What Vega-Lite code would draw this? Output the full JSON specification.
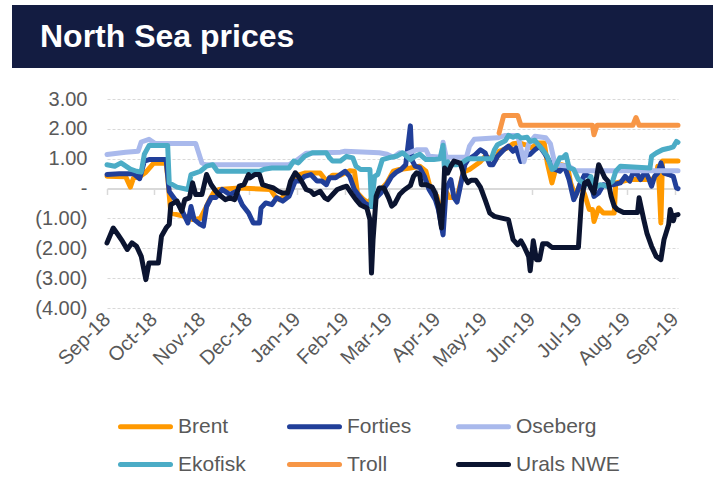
{
  "$schema": "https://vega.github.io/schema/vega-lite/v6.json",
  "background": "white",
  "padding": {"left": 12, "top": 5, "right": 12, "bottom": 0},
  "config": {"font": "Liberation Sans", "view": {"stroke": null}},
  "spacing": 31,
  "bounds": "flush",
  "resolve": {"legend": {"color": "independent"}},
  "vconcat": [
    {
      "width": 701,
      "height": 63,
      "view": {"fill": "#131c41", "stroke": null},
      "data": {"values": [{"t": "North Sea prices"}]},
      "mark": {"type": "text", "align": "left", "baseline": "alphabetic", "dx": -322.5, "dy": 10.5, "fontSize": 32, "fontWeight": "bold", "color": "#ffffff"},
      "encoding": {"text": {"field": "t"}}
    },
    {
      "resolve": {"legend": {"color": "independent"}},
      "bounds": "flush",
      "spacing": 94,
      "hconcat": [
        {
          "width": 1,
          "height": 209,
          "data": {"values": []},
          "mark": "point"
        },
        {
          "width": 571,
          "height": 209,
          "resolve": {"axis": {"x": "independent"}},
          "layer": [
            {
              "data": {"values": [{}]},
              "mark": {"type": "text", "text": ""},
              "encoding": {
                "x": {"datum": {"year": 2018, "month": 9, "date": 1}, "type": "temporal",
                  "axis": {"orient": "bottom", "offset": -119.5, "labels": false, "domain": true, "domainColor": "#d9d9d9", "domainWidth": 2, "ticks": true, "tickSize": 6, "tickColor": "#d9d9d9", "tickWidth": 1.5, "grid": false, "title": null, "tickCount": {"interval": "month", "step": 1}}}
              }
            },
            {
              "data": {"values": [
                {"series": "Brent", "date": "2018-09-01", "value": 0.41},
                {"series": "Brent", "date": "2018-09-13", "value": 0.40},
                {"series": "Brent", "date": "2018-09-16", "value": 0.05},
                {"series": "Brent", "date": "2018-09-18", "value": 0.35},
                {"series": "Brent", "date": "2018-09-22", "value": 0.40},
                {"series": "Brent", "date": "2018-09-26", "value": 0.55},
                {"series": "Brent", "date": "2018-10-01", "value": 0.85},
                {"series": "Brent", "date": "2018-10-09", "value": 0.85},
                {"series": "Brent", "date": "2018-10-10", "value": 0.40},
                {"series": "Brent", "date": "2018-10-12", "value": -0.82},
                {"series": "Brent", "date": "2018-10-18", "value": -0.90},
                {"series": "Brent", "date": "2018-10-22", "value": -0.95},
                {"series": "Brent", "date": "2018-10-26", "value": -1.04},
                {"series": "Brent", "date": "2018-10-31", "value": -1.00},
                {"series": "Brent", "date": "2018-11-03", "value": -0.70},
                {"series": "Brent", "date": "2018-11-06", "value": -0.37},
                {"series": "Brent", "date": "2018-11-09", "value": -0.10},
                {"series": "Brent", "date": "2018-11-12", "value": -0.03},
                {"series": "Brent", "date": "2018-11-25", "value": 0.02},
                {"series": "Brent", "date": "2018-12-02", "value": 0.00},
                {"series": "Brent", "date": "2018-12-15", "value": -0.03},
                {"series": "Brent", "date": "2018-12-18", "value": -0.26},
                {"series": "Brent", "date": "2018-12-21", "value": -0.37},
                {"series": "Brent", "date": "2018-12-25", "value": -0.20},
                {"series": "Brent", "date": "2018-12-30", "value": 0.25},
                {"series": "Brent", "date": "2019-01-03", "value": 0.47},
                {"series": "Brent", "date": "2019-01-06", "value": 0.52},
                {"series": "Brent", "date": "2019-01-16", "value": 0.52},
                {"series": "Brent", "date": "2019-01-20", "value": 0.25},
                {"series": "Brent", "date": "2019-01-24", "value": 0.45},
                {"series": "Brent", "date": "2019-01-29", "value": 0.45},
                {"series": "Brent", "date": "2019-02-04", "value": 0.60},
                {"series": "Brent", "date": "2019-02-07", "value": 0.58},
                {"series": "Brent", "date": "2019-02-09", "value": -0.15},
                {"series": "Brent", "date": "2019-02-13", "value": -0.37},
                {"series": "Brent", "date": "2019-02-16", "value": -0.48},
                {"series": "Brent", "date": "2019-02-19", "value": -0.25},
                {"series": "Brent", "date": "2019-02-23", "value": -0.10},
                {"series": "Brent", "date": "2019-02-28", "value": 0.20},
                {"series": "Brent", "date": "2019-03-04", "value": 0.58},
                {"series": "Brent", "date": "2019-03-08", "value": 0.64},
                {"series": "Brent", "date": "2019-03-15", "value": 0.69},
                {"series": "Brent", "date": "2019-03-21", "value": 0.75},
                {"series": "Brent", "date": "2019-03-25", "value": 0.58},
                {"series": "Brent", "date": "2019-03-28", "value": -0.03},
                {"series": "Brent", "date": "2019-04-01", "value": -0.25},
                {"series": "Brent", "date": "2019-04-04", "value": -0.90},
                {"series": "Brent", "date": "2019-04-07", "value": -0.10},
                {"series": "Brent", "date": "2019-04-09", "value": -0.30},
                {"series": "Brent", "date": "2019-04-14", "value": -0.30},
                {"series": "Brent", "date": "2019-04-18", "value": 0.55},
                {"series": "Brent", "date": "2019-04-22", "value": 0.64},
                {"series": "Brent", "date": "2019-04-29", "value": 0.90},
                {"series": "Brent", "date": "2019-05-02", "value": 1.08},
                {"series": "Brent", "date": "2019-05-05", "value": 1.02},
                {"series": "Brent", "date": "2019-05-09", "value": 0.98},
                {"series": "Brent", "date": "2019-05-11", "value": 1.25},
                {"series": "Brent", "date": "2019-05-16", "value": 1.35},
                {"series": "Brent", "date": "2019-05-20", "value": 1.50},
                {"series": "Brent", "date": "2019-05-24", "value": 1.53},
                {"series": "Brent", "date": "2019-05-29", "value": 1.45},
                {"series": "Brent", "date": "2019-06-01", "value": 1.36},
                {"series": "Brent", "date": "2019-06-05", "value": 1.53},
                {"series": "Brent", "date": "2019-06-09", "value": 1.53},
                {"series": "Brent", "date": "2019-06-11", "value": 0.86},
                {"series": "Brent", "date": "2019-06-14", "value": 0.19},
                {"series": "Brent", "date": "2019-06-16", "value": 0.58},
                {"series": "Brent", "date": "2019-06-20", "value": 0.80},
                {"series": "Brent", "date": "2019-06-24", "value": 0.75},
                {"series": "Brent", "date": "2019-06-26", "value": 0.19},
                {"series": "Brent", "date": "2019-06-29", "value": -0.26},
                {"series": "Brent", "date": "2019-07-02", "value": 0.15},
                {"series": "Brent", "date": "2019-07-05", "value": -0.20},
                {"series": "Brent", "date": "2019-07-08", "value": -0.70},
                {"series": "Brent", "date": "2019-07-10", "value": -0.70},
                {"series": "Brent", "date": "2019-07-11", "value": -1.10},
                {"series": "Brent", "date": "2019-07-14", "value": -0.65},
                {"series": "Brent", "date": "2019-07-17", "value": -0.82},
                {"series": "Brent", "date": "2019-07-24", "value": -0.82},
                {"series": "Brent", "date": "2019-07-25", "value": 0.19},
                {"series": "Brent", "date": "2019-07-30", "value": 0.25},
                {"series": "Brent", "date": "2019-08-03", "value": 0.30},
                {"series": "Brent", "date": "2019-08-17", "value": 0.30},
                {"series": "Brent", "date": "2019-08-20", "value": 0.41},
                {"series": "Brent", "date": "2019-08-21", "value": 0.75},
                {"series": "Brent", "date": "2019-08-22", "value": 0.00},
                {"series": "Brent", "date": "2019-08-23", "value": -1.15},
                {"series": "Brent", "date": "2019-08-24", "value": 0.92},
                {"series": "Brent", "date": "2019-09-03", "value": 0.92},

                {"series": "Forties", "date": "2018-09-01", "value": 0.47},
                {"series": "Forties", "date": "2018-09-09", "value": 0.50},
                {"series": "Forties", "date": "2018-09-18", "value": 0.50},
                {"series": "Forties", "date": "2018-09-22", "value": 0.33},
                {"series": "Forties", "date": "2018-09-25", "value": 0.92},
                {"series": "Forties", "date": "2018-09-28", "value": 0.97},
                {"series": "Forties", "date": "2018-10-09", "value": 0.97},
                {"series": "Forties", "date": "2018-10-11", "value": -0.10},
                {"series": "Forties", "date": "2018-10-18", "value": -0.60},
                {"series": "Forties", "date": "2018-10-21", "value": -0.93},
                {"series": "Forties", "date": "2018-10-23", "value": -1.15},
                {"series": "Forties", "date": "2018-10-25", "value": -0.60},
                {"series": "Forties", "date": "2018-10-27", "value": -1.04},
                {"series": "Forties", "date": "2018-10-31", "value": -1.20},
                {"series": "Forties", "date": "2018-11-02", "value": -1.26},
                {"series": "Forties", "date": "2018-11-04", "value": -0.60},
                {"series": "Forties", "date": "2018-11-07", "value": -0.30},
                {"series": "Forties", "date": "2018-11-10", "value": -0.30},
                {"series": "Forties", "date": "2018-11-14", "value": -0.03},
                {"series": "Forties", "date": "2018-11-19", "value": -0.20},
                {"series": "Forties", "date": "2018-11-23", "value": -0.10},
                {"series": "Forties", "date": "2018-11-27", "value": -0.55},
                {"series": "Forties", "date": "2018-12-01", "value": -0.82},
                {"series": "Forties", "date": "2018-12-04", "value": -1.15},
                {"series": "Forties", "date": "2018-12-08", "value": -1.15},
                {"series": "Forties", "date": "2018-12-09", "value": -0.65},
                {"series": "Forties", "date": "2018-12-12", "value": -0.48},
                {"series": "Forties", "date": "2018-12-16", "value": -0.54},
                {"series": "Forties", "date": "2018-12-19", "value": -0.31},
                {"series": "Forties", "date": "2018-12-23", "value": -0.42},
                {"series": "Forties", "date": "2018-12-27", "value": -0.26},
                {"series": "Forties", "date": "2018-12-31", "value": 0.25},
                {"series": "Forties", "date": "2019-01-03", "value": 0.25},
                {"series": "Forties", "date": "2019-01-06", "value": 0.41},
                {"series": "Forties", "date": "2019-01-10", "value": 0.47},
                {"series": "Forties", "date": "2019-01-14", "value": 0.25},
                {"series": "Forties", "date": "2019-01-17", "value": 0.25},
                {"series": "Forties", "date": "2019-01-20", "value": 0.13},
                {"series": "Forties", "date": "2019-01-22", "value": 0.36},
                {"series": "Forties", "date": "2019-01-26", "value": 0.36},
                {"series": "Forties", "date": "2019-01-29", "value": 0.47},
                {"series": "Forties", "date": "2019-02-01", "value": 0.58},
                {"series": "Forties", "date": "2019-02-04", "value": 0.41},
                {"series": "Forties", "date": "2019-02-07", "value": -0.03},
                {"series": "Forties", "date": "2019-02-10", "value": -0.25},
                {"series": "Forties", "date": "2019-02-14", "value": -0.50},
                {"series": "Forties", "date": "2019-02-18", "value": -0.60},
                {"series": "Forties", "date": "2019-02-21", "value": -0.31},
                {"series": "Forties", "date": "2019-02-24", "value": -0.15},
                {"series": "Forties", "date": "2019-02-28", "value": 0.15},
                {"series": "Forties", "date": "2019-03-03", "value": 0.41},
                {"series": "Forties", "date": "2019-03-06", "value": 0.55},
                {"series": "Forties", "date": "2019-03-09", "value": 0.64},
                {"series": "Forties", "date": "2019-03-12", "value": 0.80},
                {"series": "Forties", "date": "2019-03-15", "value": 2.10},
                {"series": "Forties", "date": "2019-03-16", "value": 0.95},
                {"series": "Forties", "date": "2019-03-18", "value": 0.75},
                {"series": "Forties", "date": "2019-03-21", "value": 0.70},
                {"series": "Forties", "date": "2019-03-24", "value": 0.41},
                {"series": "Forties", "date": "2019-03-27", "value": -0.03},
                {"series": "Forties", "date": "2019-03-31", "value": -0.37},
                {"series": "Forties", "date": "2019-04-02", "value": -0.70},
                {"series": "Forties", "date": "2019-04-05", "value": -1.55},
                {"series": "Forties", "date": "2019-04-07", "value": 0.00},
                {"series": "Forties", "date": "2019-04-10", "value": 0.30},
                {"series": "Forties", "date": "2019-04-12", "value": -0.30},
                {"series": "Forties", "date": "2019-04-14", "value": -0.45},
                {"series": "Forties", "date": "2019-04-17", "value": 0.30},
                {"series": "Forties", "date": "2019-04-19", "value": 0.80},
                {"series": "Forties", "date": "2019-04-21", "value": 0.97},
                {"series": "Forties", "date": "2019-04-25", "value": 1.10},
                {"series": "Forties", "date": "2019-04-29", "value": 1.30},
                {"series": "Forties", "date": "2019-05-02", "value": 1.20},
                {"series": "Forties", "date": "2019-05-05", "value": 0.80},
                {"series": "Forties", "date": "2019-05-07", "value": 0.80},
                {"series": "Forties", "date": "2019-05-10", "value": 1.08},
                {"series": "Forties", "date": "2019-05-14", "value": 1.30},
                {"series": "Forties", "date": "2019-05-17", "value": 1.42},
                {"series": "Forties", "date": "2019-05-20", "value": 1.25},
                {"series": "Forties", "date": "2019-05-22", "value": 1.36},
                {"series": "Forties", "date": "2019-05-25", "value": 0.91},
                {"series": "Forties", "date": "2019-05-27", "value": 1.10},
                {"series": "Forties", "date": "2019-05-31", "value": 1.15},
                {"series": "Forties", "date": "2019-06-03", "value": 1.30},
                {"series": "Forties", "date": "2019-06-06", "value": 1.42},
                {"series": "Forties", "date": "2019-06-09", "value": 1.20},
                {"series": "Forties", "date": "2019-06-13", "value": 0.86},
                {"series": "Forties", "date": "2019-06-16", "value": 0.64},
                {"series": "Forties", "date": "2019-06-19", "value": 0.58},
                {"series": "Forties", "date": "2019-06-22", "value": 0.75},
                {"series": "Forties", "date": "2019-06-25", "value": 0.30},
                {"series": "Forties", "date": "2019-06-28", "value": -0.37},
                {"series": "Forties", "date": "2019-06-30", "value": -0.15},
                {"series": "Forties", "date": "2019-07-02", "value": 0.15},
                {"series": "Forties", "date": "2019-07-05", "value": 0.47},
                {"series": "Forties", "date": "2019-07-08", "value": 0.41},
                {"series": "Forties", "date": "2019-07-11", "value": -0.26},
                {"series": "Forties", "date": "2019-07-14", "value": -0.15},
                {"series": "Forties", "date": "2019-07-17", "value": 0.13},
                {"series": "Forties", "date": "2019-07-20", "value": 0.08},
                {"series": "Forties", "date": "2019-07-23", "value": 0.13},
                {"series": "Forties", "date": "2019-07-28", "value": 0.19},
                {"series": "Forties", "date": "2019-07-31", "value": 0.41},
                {"series": "Forties", "date": "2019-08-03", "value": 0.25},
                {"series": "Forties", "date": "2019-08-05", "value": 0.52},
                {"series": "Forties", "date": "2019-08-08", "value": 0.47},
                {"series": "Forties", "date": "2019-08-10", "value": 0.30},
                {"series": "Forties", "date": "2019-08-13", "value": 0.58},
                {"series": "Forties", "date": "2019-08-15", "value": 0.36},
                {"series": "Forties", "date": "2019-08-17", "value": 0.08},
                {"series": "Forties", "date": "2019-08-19", "value": 0.41},
                {"series": "Forties", "date": "2019-08-21", "value": 0.52},
                {"series": "Forties", "date": "2019-08-23", "value": 0.86},
                {"series": "Forties", "date": "2019-08-25", "value": 0.52},
                {"series": "Forties", "date": "2019-08-28", "value": 0.47},
                {"series": "Forties", "date": "2019-08-31", "value": 0.41},
                {"series": "Forties", "date": "2019-09-02", "value": 0.02},
                {"series": "Forties", "date": "2019-09-03", "value": 0.00},

                {"series": "Oseberg", "date": "2018-09-01", "value": 1.14},
                {"series": "Oseberg", "date": "2018-09-13", "value": 1.22},
                {"series": "Oseberg", "date": "2018-09-21", "value": 1.25},
                {"series": "Oseberg", "date": "2018-09-23", "value": 1.56},
                {"series": "Oseberg", "date": "2018-09-28", "value": 1.65},
                {"series": "Oseberg", "date": "2018-10-02", "value": 1.51},
                {"series": "Oseberg", "date": "2018-10-28", "value": 1.51},
                {"series": "Oseberg", "date": "2018-11-01", "value": 0.86},
                {"series": "Oseberg", "date": "2018-11-03", "value": 0.80},
                {"series": "Oseberg", "date": "2018-12-27", "value": 0.80},
                {"series": "Oseberg", "date": "2019-01-01", "value": 0.95},
                {"series": "Oseberg", "date": "2019-01-07", "value": 1.18},
                {"series": "Oseberg", "date": "2019-01-29", "value": 1.22},
                {"series": "Oseberg", "date": "2019-02-01", "value": 1.25},
                {"series": "Oseberg", "date": "2019-02-23", "value": 1.20},
                {"series": "Oseberg", "date": "2019-02-28", "value": 1.15},
                {"series": "Oseberg", "date": "2019-03-04", "value": 1.05},
                {"series": "Oseberg", "date": "2019-03-08", "value": 1.20},
                {"series": "Oseberg", "date": "2019-03-12", "value": 1.15},
                {"series": "Oseberg", "date": "2019-03-19", "value": 1.30},
                {"series": "Oseberg", "date": "2019-03-25", "value": 1.30},
                {"series": "Oseberg", "date": "2019-03-27", "value": 1.08},
                {"series": "Oseberg", "date": "2019-04-04", "value": 1.05},
                {"series": "Oseberg", "date": "2019-04-05", "value": 1.55},
                {"series": "Oseberg", "date": "2019-04-07", "value": 1.05},
                {"series": "Oseberg", "date": "2019-04-20", "value": 1.05},
                {"series": "Oseberg", "date": "2019-04-22", "value": 1.42},
                {"series": "Oseberg", "date": "2019-04-25", "value": 1.65},
                {"series": "Oseberg", "date": "2019-05-10", "value": 1.70},
                {"series": "Oseberg", "date": "2019-05-15", "value": 1.78},
                {"series": "Oseberg", "date": "2019-05-23", "value": 1.78},
                {"series": "Oseberg", "date": "2019-05-25", "value": 1.35},
                {"series": "Oseberg", "date": "2019-05-27", "value": 0.90},
                {"series": "Oseberg", "date": "2019-05-30", "value": 1.50},
                {"series": "Oseberg", "date": "2019-06-03", "value": 1.75},
                {"series": "Oseberg", "date": "2019-06-10", "value": 1.70},
                {"series": "Oseberg", "date": "2019-06-13", "value": 1.50},
                {"series": "Oseberg", "date": "2019-06-16", "value": 0.80},
                {"series": "Oseberg", "date": "2019-06-25", "value": 0.75},
                {"series": "Oseberg", "date": "2019-06-29", "value": 0.60},
                {"series": "Oseberg", "date": "2019-09-03", "value": 0.60},

                {"series": "Ekofisk", "date": "2018-09-01", "value": 0.80},
                {"series": "Ekofisk", "date": "2018-09-06", "value": 0.75},
                {"series": "Ekofisk", "date": "2018-09-10", "value": 0.86},
                {"series": "Ekofisk", "date": "2018-09-16", "value": 0.65},
                {"series": "Ekofisk", "date": "2018-09-20", "value": 0.58},
                {"series": "Ekofisk", "date": "2018-09-23", "value": 0.55},
                {"series": "Ekofisk", "date": "2018-09-25", "value": 1.15},
                {"series": "Ekofisk", "date": "2018-09-28", "value": 1.44},
                {"series": "Ekofisk", "date": "2018-10-10", "value": 1.44},
                {"series": "Ekofisk", "date": "2018-10-11", "value": 0.19},
                {"series": "Ekofisk", "date": "2018-10-16", "value": 0.05},
                {"series": "Ekofisk", "date": "2018-10-23", "value": -0.03},
                {"series": "Ekofisk", "date": "2018-10-25", "value": 0.47},
                {"series": "Ekofisk", "date": "2018-10-31", "value": 0.58},
                {"series": "Ekofisk", "date": "2018-11-04", "value": 0.75},
                {"series": "Ekofisk", "date": "2018-11-08", "value": 0.80},
                {"series": "Ekofisk", "date": "2018-11-11", "value": 0.58},
                {"series": "Ekofisk", "date": "2018-12-08", "value": 0.58},
                {"series": "Ekofisk", "date": "2018-12-11", "value": 0.65},
                {"series": "Ekofisk", "date": "2018-12-16", "value": 0.69},
                {"series": "Ekofisk", "date": "2018-12-27", "value": 0.69},
                {"series": "Ekofisk", "date": "2018-12-30", "value": 0.92},
                {"series": "Ekofisk", "date": "2019-01-02", "value": 0.86},
                {"series": "Ekofisk", "date": "2019-01-06", "value": 1.08},
                {"series": "Ekofisk", "date": "2019-01-11", "value": 1.20},
                {"series": "Ekofisk", "date": "2019-01-20", "value": 1.20},
                {"series": "Ekofisk", "date": "2019-01-22", "value": 1.03},
                {"series": "Ekofisk", "date": "2019-01-24", "value": 0.92},
                {"series": "Ekofisk", "date": "2019-01-29", "value": 0.92},
                {"series": "Ekofisk", "date": "2019-02-02", "value": 1.08},
                {"series": "Ekofisk", "date": "2019-02-06", "value": 1.03},
                {"series": "Ekofisk", "date": "2019-02-08", "value": 0.75},
                {"series": "Ekofisk", "date": "2019-02-11", "value": 0.64},
                {"series": "Ekofisk", "date": "2019-02-17", "value": 0.64},
                {"series": "Ekofisk", "date": "2019-02-18", "value": -0.60},
                {"series": "Ekofisk", "date": "2019-02-20", "value": 0.41},
                {"series": "Ekofisk", "date": "2019-02-22", "value": 0.47},
                {"series": "Ekofisk", "date": "2019-02-25", "value": 0.97},
                {"series": "Ekofisk", "date": "2019-03-01", "value": 1.03},
                {"series": "Ekofisk", "date": "2019-03-06", "value": 1.08},
                {"series": "Ekofisk", "date": "2019-03-10", "value": 1.20},
                {"series": "Ekofisk", "date": "2019-03-15", "value": 0.97},
                {"series": "Ekofisk", "date": "2019-03-18", "value": 1.08},
                {"series": "Ekofisk", "date": "2019-03-21", "value": 1.15},
                {"series": "Ekofisk", "date": "2019-03-25", "value": 0.97},
                {"series": "Ekofisk", "date": "2019-03-30", "value": 0.97},
                {"series": "Ekofisk", "date": "2019-04-03", "value": 1.00},
                {"series": "Ekofisk", "date": "2019-04-05", "value": 1.45},
                {"series": "Ekofisk", "date": "2019-04-06", "value": 0.55},
                {"series": "Ekofisk", "date": "2019-04-08", "value": 0.90},
                {"series": "Ekofisk", "date": "2019-04-09", "value": 0.80},
                {"series": "Ekofisk", "date": "2019-04-14", "value": 0.80},
                {"series": "Ekofisk", "date": "2019-04-17", "value": 0.86},
                {"series": "Ekofisk", "date": "2019-04-21", "value": 1.00},
                {"series": "Ekofisk", "date": "2019-05-06", "value": 1.00},
                {"series": "Ekofisk", "date": "2019-05-08", "value": 1.30},
                {"series": "Ekofisk", "date": "2019-05-10", "value": 1.47},
                {"series": "Ekofisk", "date": "2019-05-15", "value": 1.60},
                {"series": "Ekofisk", "date": "2019-05-17", "value": 1.78},
                {"series": "Ekofisk", "date": "2019-05-20", "value": 1.72},
                {"series": "Ekofisk", "date": "2019-05-23", "value": 1.78},
                {"series": "Ekofisk", "date": "2019-05-25", "value": 1.69},
                {"series": "Ekofisk", "date": "2019-05-29", "value": 1.72},
                {"series": "Ekofisk", "date": "2019-05-31", "value": 1.58},
                {"series": "Ekofisk", "date": "2019-06-03", "value": 1.62},
                {"series": "Ekofisk", "date": "2019-06-06", "value": 1.42},
                {"series": "Ekofisk", "date": "2019-06-08", "value": 1.30},
                {"series": "Ekofisk", "date": "2019-06-11", "value": 1.08},
                {"series": "Ekofisk", "date": "2019-06-14", "value": 0.64},
                {"series": "Ekofisk", "date": "2019-06-16", "value": 0.70},
                {"series": "Ekofisk", "date": "2019-06-19", "value": 1.03},
                {"series": "Ekofisk", "date": "2019-06-21", "value": 1.03},
                {"series": "Ekofisk", "date": "2019-06-23", "value": 1.14},
                {"series": "Ekofisk", "date": "2019-06-25", "value": 0.69},
                {"series": "Ekofisk", "date": "2019-06-28", "value": 0.64},
                {"series": "Ekofisk", "date": "2019-07-01", "value": 0.30},
                {"series": "Ekofisk", "date": "2019-07-04", "value": 0.20},
                {"series": "Ekofisk", "date": "2019-07-05", "value": 0.08},
                {"series": "Ekofisk", "date": "2019-07-09", "value": 0.40},
                {"series": "Ekofisk", "date": "2019-07-11", "value": 0.03},
                {"series": "Ekofisk", "date": "2019-07-15", "value": 0.13},
                {"series": "Ekofisk", "date": "2019-07-19", "value": 0.08},
                {"series": "Ekofisk", "date": "2019-07-23", "value": 0.25},
                {"series": "Ekofisk", "date": "2019-07-25", "value": 0.58},
                {"series": "Ekofisk", "date": "2019-07-28", "value": 0.75},
                {"series": "Ekofisk", "date": "2019-08-16", "value": 0.69},
                {"series": "Ekofisk", "date": "2019-08-17", "value": 1.08},
                {"series": "Ekofisk", "date": "2019-08-20", "value": 1.19},
                {"series": "Ekofisk", "date": "2019-08-24", "value": 1.30},
                {"series": "Ekofisk", "date": "2019-08-28", "value": 1.35},
                {"series": "Ekofisk", "date": "2019-08-31", "value": 1.40},
                {"series": "Ekofisk", "date": "2019-09-02", "value": 1.58},
                {"series": "Ekofisk", "date": "2019-09-03", "value": 1.55},

                {"series": "Troll", "date": "2019-05-11", "value": 1.86},
                {"series": "Troll", "date": "2019-05-14", "value": 2.45},
                {"series": "Troll", "date": "2019-05-23", "value": 2.45},
                {"series": "Troll", "date": "2019-05-25", "value": 2.12},
                {"series": "Troll", "date": "2019-07-10", "value": 2.12},
                {"series": "Troll", "date": "2019-07-11", "value": 1.80},
                {"series": "Troll", "date": "2019-07-13", "value": 2.12},
                {"series": "Troll", "date": "2019-08-05", "value": 2.12},
                {"series": "Troll", "date": "2019-08-07", "value": 2.38},
                {"series": "Troll", "date": "2019-08-09", "value": 2.12},
                {"series": "Troll", "date": "2019-09-03", "value": 2.12},

                {"series": "Urals NWE", "date": "2018-09-01", "value": -1.82},
                {"series": "Urals NWE", "date": "2018-09-05", "value": -1.32},
                {"series": "Urals NWE", "date": "2018-09-08", "value": -1.54},
                {"series": "Urals NWE", "date": "2018-09-11", "value": -1.77},
                {"series": "Urals NWE", "date": "2018-09-14", "value": -2.04},
                {"series": "Urals NWE", "date": "2018-09-17", "value": -1.82},
                {"series": "Urals NWE", "date": "2018-09-20", "value": -1.93},
                {"series": "Urals NWE", "date": "2018-09-23", "value": -2.27},
                {"series": "Urals NWE", "date": "2018-09-26", "value": -3.05},
                {"series": "Urals NWE", "date": "2018-09-28", "value": -2.49},
                {"series": "Urals NWE", "date": "2018-10-04", "value": -2.49},
                {"series": "Urals NWE", "date": "2018-10-06", "value": -1.60},
                {"series": "Urals NWE", "date": "2018-10-09", "value": -1.32},
                {"series": "Urals NWE", "date": "2018-10-11", "value": -1.20},
                {"series": "Urals NWE", "date": "2018-10-12", "value": -0.54},
                {"series": "Urals NWE", "date": "2018-10-16", "value": -0.42},
                {"series": "Urals NWE", "date": "2018-10-19", "value": -0.76},
                {"series": "Urals NWE", "date": "2018-10-21", "value": -0.37},
                {"series": "Urals NWE", "date": "2018-10-24", "value": -0.31},
                {"series": "Urals NWE", "date": "2018-10-26", "value": 0.19},
                {"series": "Urals NWE", "date": "2018-10-28", "value": -0.20},
                {"series": "Urals NWE", "date": "2018-11-01", "value": -0.20},
                {"series": "Urals NWE", "date": "2018-11-04", "value": 0.47},
                {"series": "Urals NWE", "date": "2018-11-07", "value": 0.13},
                {"series": "Urals NWE", "date": "2018-11-10", "value": -0.09},
                {"series": "Urals NWE", "date": "2018-11-12", "value": -0.20},
                {"series": "Urals NWE", "date": "2018-11-16", "value": -0.37},
                {"series": "Urals NWE", "date": "2018-11-19", "value": -0.31},
                {"series": "Urals NWE", "date": "2018-11-22", "value": -0.37},
                {"series": "Urals NWE", "date": "2018-11-25", "value": 0.08},
                {"series": "Urals NWE", "date": "2018-11-28", "value": 0.13},
                {"series": "Urals NWE", "date": "2018-12-01", "value": 0.47},
                {"series": "Urals NWE", "date": "2018-12-02", "value": 0.36},
                {"series": "Urals NWE", "date": "2018-12-05", "value": 0.47},
                {"series": "Urals NWE", "date": "2018-12-08", "value": 0.47},
                {"series": "Urals NWE", "date": "2018-12-10", "value": 0.13},
                {"series": "Urals NWE", "date": "2018-12-13", "value": 0.08},
                {"series": "Urals NWE", "date": "2018-12-17", "value": 0.02},
                {"series": "Urals NWE", "date": "2018-12-20", "value": -0.09},
                {"series": "Urals NWE", "date": "2018-12-23", "value": -0.15},
                {"series": "Urals NWE", "date": "2018-12-26", "value": -0.15},
                {"series": "Urals NWE", "date": "2018-12-28", "value": 0.25},
                {"series": "Urals NWE", "date": "2018-12-31", "value": 0.53},
                {"series": "Urals NWE", "date": "2019-01-02", "value": 0.41},
                {"series": "Urals NWE", "date": "2019-01-04", "value": 0.25},
                {"series": "Urals NWE", "date": "2019-01-07", "value": -0.03},
                {"series": "Urals NWE", "date": "2019-01-10", "value": -0.09},
                {"series": "Urals NWE", "date": "2019-01-12", "value": -0.20},
                {"series": "Urals NWE", "date": "2019-01-16", "value": -0.09},
                {"series": "Urals NWE", "date": "2019-01-19", "value": -0.31},
                {"series": "Urals NWE", "date": "2019-01-21", "value": -0.37},
                {"series": "Urals NWE", "date": "2019-01-24", "value": -0.20},
                {"series": "Urals NWE", "date": "2019-01-27", "value": -0.03},
                {"series": "Urals NWE", "date": "2019-01-31", "value": 0.05},
                {"series": "Urals NWE", "date": "2019-02-02", "value": 0.08},
                {"series": "Urals NWE", "date": "2019-02-05", "value": -0.15},
                {"series": "Urals NWE", "date": "2019-02-08", "value": -0.37},
                {"series": "Urals NWE", "date": "2019-02-11", "value": -0.55},
                {"series": "Urals NWE", "date": "2019-02-15", "value": -0.65},
                {"series": "Urals NWE", "date": "2019-02-17", "value": -1.04},
                {"series": "Urals NWE", "date": "2019-02-18", "value": -2.83},
                {"series": "Urals NWE", "date": "2019-02-19", "value": -1.71},
                {"series": "Urals NWE", "date": "2019-02-21", "value": -0.26},
                {"series": "Urals NWE", "date": "2019-02-23", "value": 0.02},
                {"series": "Urals NWE", "date": "2019-02-26", "value": 0.02},
                {"series": "Urals NWE", "date": "2019-03-01", "value": -0.31},
                {"series": "Urals NWE", "date": "2019-03-03", "value": -0.59},
                {"series": "Urals NWE", "date": "2019-03-05", "value": -0.50},
                {"series": "Urals NWE", "date": "2019-03-08", "value": -0.20},
                {"series": "Urals NWE", "date": "2019-03-11", "value": -0.05},
                {"series": "Urals NWE", "date": "2019-03-15", "value": 0.10},
                {"series": "Urals NWE", "date": "2019-03-17", "value": 0.41},
                {"series": "Urals NWE", "date": "2019-03-19", "value": 0.53},
                {"series": "Urals NWE", "date": "2019-03-21", "value": 0.47},
                {"series": "Urals NWE", "date": "2019-03-22", "value": 0.13},
                {"series": "Urals NWE", "date": "2019-03-25", "value": 0.13},
                {"series": "Urals NWE", "date": "2019-03-29", "value": 0.05},
                {"series": "Urals NWE", "date": "2019-03-31", "value": -0.15},
                {"series": "Urals NWE", "date": "2019-04-02", "value": -0.59},
                {"series": "Urals NWE", "date": "2019-04-04", "value": -1.32},
                {"series": "Urals NWE", "date": "2019-04-05", "value": -0.48},
                {"series": "Urals NWE", "date": "2019-04-06", "value": 0.69},
                {"series": "Urals NWE", "date": "2019-04-08", "value": 0.52},
                {"series": "Urals NWE", "date": "2019-04-10", "value": 0.75},
                {"series": "Urals NWE", "date": "2019-04-12", "value": 0.92},
                {"series": "Urals NWE", "date": "2019-04-16", "value": 0.85},
                {"series": "Urals NWE", "date": "2019-04-19", "value": 0.36},
                {"series": "Urals NWE", "date": "2019-04-21", "value": 0.20},
                {"series": "Urals NWE", "date": "2019-04-23", "value": 0.28},
                {"series": "Urals NWE", "date": "2019-04-26", "value": 0.28},
                {"series": "Urals NWE", "date": "2019-04-29", "value": 0.05},
                {"series": "Urals NWE", "date": "2019-05-02", "value": -0.37},
                {"series": "Urals NWE", "date": "2019-05-05", "value": -0.82},
                {"series": "Urals NWE", "date": "2019-05-08", "value": -0.93},
                {"series": "Urals NWE", "date": "2019-05-12", "value": -0.98},
                {"series": "Urals NWE", "date": "2019-05-17", "value": -1.04},
                {"series": "Urals NWE", "date": "2019-05-20", "value": -1.71},
                {"series": "Urals NWE", "date": "2019-05-23", "value": -1.88},
                {"series": "Urals NWE", "date": "2019-05-25", "value": -1.75},
                {"series": "Urals NWE", "date": "2019-05-27", "value": -1.93},
                {"series": "Urals NWE", "date": "2019-05-30", "value": -2.27},
                {"series": "Urals NWE", "date": "2019-05-31", "value": -2.75},
                {"series": "Urals NWE", "date": "2019-06-02", "value": -1.75},
                {"series": "Urals NWE", "date": "2019-06-04", "value": -2.38},
                {"series": "Urals NWE", "date": "2019-06-06", "value": -2.38},
                {"series": "Urals NWE", "date": "2019-06-08", "value": -1.85},
                {"series": "Urals NWE", "date": "2019-06-11", "value": -1.85},
                {"series": "Urals NWE", "date": "2019-06-14", "value": -1.97},
                {"series": "Urals NWE", "date": "2019-07-01", "value": -1.97},
                {"series": "Urals NWE", "date": "2019-07-03", "value": -0.37},
                {"series": "Urals NWE", "date": "2019-07-05", "value": 0.19},
                {"series": "Urals NWE", "date": "2019-07-07", "value": 0.25},
                {"series": "Urals NWE", "date": "2019-07-09", "value": 0.02},
                {"series": "Urals NWE", "date": "2019-07-11", "value": -0.15},
                {"series": "Urals NWE", "date": "2019-07-14", "value": 0.80},
                {"series": "Urals NWE", "date": "2019-07-16", "value": 0.58},
                {"series": "Urals NWE", "date": "2019-07-18", "value": 0.36},
                {"series": "Urals NWE", "date": "2019-07-20", "value": 0.25},
                {"series": "Urals NWE", "date": "2019-07-22", "value": -0.26},
                {"series": "Urals NWE", "date": "2019-07-24", "value": -0.59},
                {"series": "Urals NWE", "date": "2019-07-26", "value": -0.70},
                {"series": "Urals NWE", "date": "2019-07-30", "value": -0.80},
                {"series": "Urals NWE", "date": "2019-08-08", "value": -0.80},
                {"series": "Urals NWE", "date": "2019-08-09", "value": -0.31},
                {"series": "Urals NWE", "date": "2019-08-12", "value": -1.04},
                {"series": "Urals NWE", "date": "2019-08-14", "value": -1.49},
                {"series": "Urals NWE", "date": "2019-08-17", "value": -1.93},
                {"series": "Urals NWE", "date": "2019-08-20", "value": -2.27},
                {"series": "Urals NWE", "date": "2019-08-23", "value": -2.38},
                {"series": "Urals NWE", "date": "2019-08-25", "value": -1.71},
                {"series": "Urals NWE", "date": "2019-08-28", "value": -1.20},
                {"series": "Urals NWE", "date": "2019-08-29", "value": -0.70},
                {"series": "Urals NWE", "date": "2019-08-31", "value": -1.08},
                {"series": "Urals NWE", "date": "2019-09-01", "value": -0.90},
                {"series": "Urals NWE", "date": "2019-09-03", "value": -0.87}
              ]},
              "mark": {"type": "line", "strokeWidth": 5, "strokeJoin": "round", "strokeCap": "round"},
              "encoding": {
                "x": {"field": "date", "type": "temporal",
                  "scale": {"domain": [{"year": 2018, "month": 9, "date": 1}, {"year": 2019, "month": 9, "date": 3}]},
                  "axis": {"orient": "bottom", "format": "%b-%y", "tickCount": {"interval": "month", "step": 1}, "labelAngle": -45, "labelAlign": "right", "labelBaseline": "middle", "labelPadding": 8, "labelFontSize": 20, "labelColor": "#595959", "ticks": false, "domain": false, "grid": false, "title": null, "labelOverlap": false, "labelFlush": false, "labelBound": false}},
                "y": {"field": "value", "type": "quantitative",
                  "scale": {"domain": [-4, 3], "nice": false, "zero": false},
                  "axis": {"values": [-4, -3, -2, -1, 0, 1, 2, 3], "labelExpr": "datum.value == 0 ? '-' : datum.value < 0 ? '(' + format(-datum.value, '.2f') + ')' : format(datum.value, '.2f')", "labelFontSize": 20, "labelColor": "#595959", "labelPadding": 20, "ticks": false, "tickSize": 0, "domain": false, "grid": true, "gridColor": "#d9d9d9", "gridDash": [3, 2], "gridWidth": 1, "title": null, "labelOverlap": false,
                    "encode": {"labels": {"update": {"dx": {"signal": "datum.value == 0 ? -15.6 : datum.value > 0 ? -5.6 : 0"}}}}}},
                "color": {"field": "series", "type": "nominal",
                  "scale": {"domain": ["Brent", "Forties", "Oseberg", "Ekofisk", "Troll", "Urals NWE"], "range": ["#ff9900", "#213f99", "#a9b9ec", "#4bacc6", "#f79646", "#0b1430"]},
                  "legend": {"orient": "none", "legendX": 11, "legendY": 300, "columns": 3, "direction": "horizontal", "symbolType": "stroke", "symbolStrokeWidth": 5, "symbolSize": 2500, "labelFontSize": 21, "labelColor": "#595959", "labelOffset": 5, "columnPadding": -3, "rowPadding": 0, "gridAlign": "all", "title": null, "padding": 0, "encode": {"symbols": {"update": {"strokeCap": {"value": "round"}}}}}}
              }
            }
          ]
        }
      ]
    }
  ]
}
